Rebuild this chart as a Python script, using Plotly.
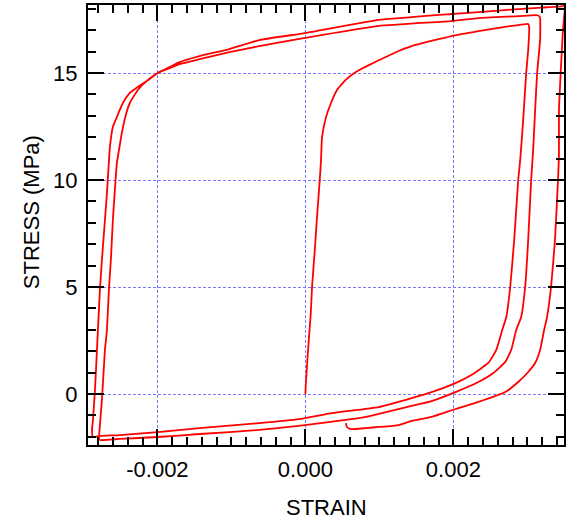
import plotly.graph_objects as go

# ---- data (strain, stress in MPa) ----
load1_strain = [0.0, 0.000005, 0.000036, 0.000073, 0.00009, 0.000127, 0.000157, 0.000194, 0.000211,
                0.000225, 0.000279, 0.000346, 0.000427, 0.000548, 0.000682, 0.000857, 0.001086,
                0.001261, 0.001436, 0.001974, 0.002338, 0.002674, 0.002984, 0.003011]
load1_stress = [0.0, 0.42, 2.06, 3.79, 5.0, 6.73, 8.27, 10.0, 10.93,
                12.01, 12.94, 13.6, 14.21, 14.69, 15.05, 15.37, 15.75,
                16.03, 16.26, 16.73, 16.96, 17.15, 17.29, 17.29]

unload1_strain = [0.003024, 0.003011, 0.002984, 0.002943, 0.002903, 0.002876, 0.002822, 0.002768,
                  0.002715, 0.00266, 0.00258, 0.002472, 0.002243, 0.002028, 0.001705, 0.001436,
                  0.000992, 0.000359, -0.000085, -0.000623, -0.001431, -0.001996, -0.002508,
                  -0.002777, -0.002871]
unload1_stress = [17.15, 16.07, 15.0, 12.8, 10.93, 10.0, 7.2, 5.0,
                  3.6, 2.99, 2.06, 1.45, 0.89, 0.51, 0.09, -0.19,
                  -0.61, -0.89, -1.17, -1.36, -1.59, -1.78, -1.92,
                  -1.96, -2.01]

reload1_strain = [-0.002884, -0.002871, -0.002844, -0.002817, -0.002804, -0.002777, -0.00275,
                  -0.002709, -0.002682, -0.002642, -0.002602, -0.002548, -0.002467, -0.002373,
                  -0.002265, -0.002104, -0.001996, -0.001834, -0.0017, -0.001431, -0.001027,
                  -0.000623, -0.000004, 0.000992, 0.001974, 0.002338, 0.002876, 0.003118, 0.003159]
reload1_stress = [-1.68, -1.21, 0.19, 2.06, 2.99, 4.86, 6.26,
                  8.13, 9.39, 11.54, 12.48, 12.94, 13.6, 14.07,
                  14.35, 14.72, 15.0, 15.23, 15.42, 15.65, 15.98,
                  16.26, 16.64, 17.2, 17.43, 17.57, 17.66, 17.71, 17.66]

unload2_strain = [0.003172, 0.003172, 0.003132, 0.003105, 0.003078, 0.003051, 0.003011, 0.00297,
                  0.002916, 0.002849, 0.002782, 0.002701, 0.00254, 0.002338, 0.002028, 0.001705,
                  0.001436, 0.000992, 0.000817, -0.000004, -0.000623, -0.001431, -0.001996,
                  -0.002508, -0.002777]
unload2_stress = [17.57, 16.54, 15.0, 13.27, 11.4, 10.0, 7.2, 5.0,
                  3.6, 2.99, 2.06, 1.5, 0.98, 0.56, 0.09, -0.33,
                  -0.56, -0.93, -1.07, -1.45, -1.68, -1.87, -2.01,
                  -2.1, -2.15]

reload2_strain = [-0.002789, -0.002777, -0.00275, -0.002709, -0.002682, -0.002656, -0.002629,
                  -0.002602, -0.002575, -0.002548, -0.002508, -0.002481, -0.002427, -0.002373,
                  -0.002265, -0.002131, -0.001996, -0.001834, -0.0017, -0.001431, -0.001027,
                  -0.000623, -0.000004, 0.000992, 0.001974, 0.002338, 0.002876, 0.003495, 0.003508]
reload2_stress = [-2.1, -1.45, -0.28, 2.06, 2.99, 4.86, 6.26,
                  8.13, 9.53, 10.79, 11.64, 12.2, 13.04, 13.6,
                  14.21, 14.67, 15.0, 15.28, 15.51, 15.79, 16.12,
                  16.54, 16.87, 17.48, 17.76, 17.85, 17.99, 18.13, 18.15]

unload3_strain = [0.003508, 0.003481, 0.003454, 0.003427, 0.003427, 0.003414, 0.003373, 0.00332,
                  0.003266, 0.003226, 0.003172, 0.003105, 0.003011, 0.002876, 0.002701, 0.002338,
                  0.002028, 0.001705, 0.001436, 0.001261, 0.000992, 0.000817, 0.000615,
                  0.000561, 0.000548]
unload3_stress = [18.04, 17.0, 15.28, 13.27, 11.17, 10.0, 7.2, 5.0,
                  3.6, 2.99, 2.06, 1.45, 1.03, 0.56, 0.09, -0.37,
                  -0.7, -1.07, -1.26, -1.45, -1.54, -1.59, -1.64,
                  -1.54, -1.36]

x_tickvals = [-0.002, 0.0, 0.002]
x_ticktext = ["-0.002", "0.000", "0.002"]
y_tickvals = [0, 5, 10, 15]
y_ticktext = ["0", "5", "10", "15"]

strain = (load1_strain + unload1_strain + reload1_strain + unload2_strain
          + reload2_strain + unload3_strain)
stress = (load1_stress + unload1_stress + reload1_stress + unload2_stress
          + reload2_stress + unload3_stress)

FONT = "Liberation Sans, Arial, sans-serif"

fig = go.Figure()
fig.add_trace(go.Scatter(x=strain, y=stress, mode="lines",
                         line=dict(color="#ff0000", width=1.8, shape="spline", smoothing=0.4),
                         showlegend=False, hoverinfo="skip"))

axis_common = dict(
    showline=True, linewidth=2, linecolor="black", mirror="ticks",
    ticks="inside", ticklen=16, tickwidth=2, tickcolor="black",
    showgrid=True, gridcolor="#7878ff", gridwidth=1, griddash="3px,2px",
    zeroline=False,
    tickfont=dict(family=FONT, size=22, color="black"),
)

fig.update_xaxes(range=[-0.002938, 0.003495], tickmode="array",
                 tickvals=x_tickvals, ticktext=x_ticktext,
                 minor=dict(tickmode="linear", tick0=0, dtick=0.0002, ticks="inside",
                            ticklen=8, tickwidth=2, tickcolor="black", showgrid=False),
                 ticklabelstandoff=4,
                 **axis_common)
fig.update_yaxes(range=[-2.383, 18.18], tickmode="array",
                 tickvals=y_tickvals, ticktext=y_ticktext,
                 minor=dict(tickmode="linear", tick0=0, dtick=1, ticks="inside",
                            ticklen=8, tickwidth=2, tickcolor="black", showgrid=False),
                 ticklabelstandoff=4,
                 **axis_common)

fig.add_annotation(text="STRAIN", xref="paper", yref="paper", x=0.5, y=-0.143,
                   xanchor="center", yanchor="middle", showarrow=False,
                   font=dict(family=FONT, size=22, color="black"))
fig.add_annotation(text="STRESS (MPa)", xref="paper", yref="paper", x=-0.119, y=0.53,
                   xanchor="center", yanchor="middle", showarrow=False, textangle=-90,
                   font=dict(family=FONT, size=22, color="black"))

fig.update_layout(width=566, height=522, margin=dict(l=88, r=0, t=5, b=77),
                  paper_bgcolor="white", plot_bgcolor="white")

fig.write_html("out.html", config={"displayModeBar": False},
               post_script="document.body.style.margin='0';document.body.style.overflow='hidden';")
